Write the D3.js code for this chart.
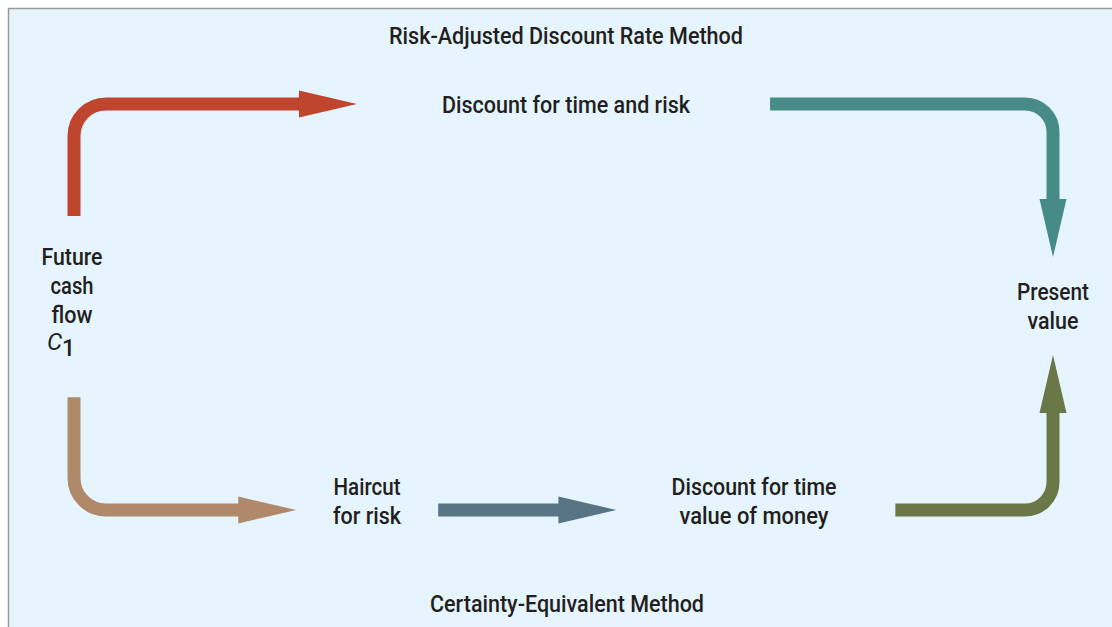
<!DOCTYPE html>
<html>
<head>
<meta charset="utf-8">
<script src="https://cdn.jsdelivr.net/npm/d3@7"></script>
<style>
  html, body { margin: 0; padding: 0; background: #ffffff; }
  svg { display: block; }
</style>
</head>
<body>
<svg id="chart" width="1112" height="627"></svg>
<script>
// Two ways of valuing a risky future cash flow C1
const methods = ["Risk-Adjusted Discount Rate Method", "Certainty-Equivalent Method"];
const stepTop = ["Discount for time and risk"];
const startLabel = ["Future", "cash", "flow"];
const endLabel = ["Present", "value"];
const stepHaircut = ["Haircut", "for risk"];
const stepDiscount = ["Discount for time", "value of money"];
const arrowNames = ["riskUp", "riskDown", "ceDown", "ceMiddle", "ceUp"];
const arrowColors = ["#bf452e", "#468b88", "#b0896b", "#597585", "#6a7848"];

// Layout grid: columns and rows of the flow, mapped to pixels through scales
const W = 1112, H = 627;
const svg = d3.select("#chart");
const x = d3.scaleLinear().domain([0, 100]).range([74, 1053]);
const y = d3.scaleLinear().domain([0, 100]).range([104, 510]);

const font = "Roboto, 'Liberation Sans Narrow', 'DejaVu Sans Condensed', sans-serif";
const ink = "#231f20";

// Panel
svg.append("rect").attr("x", 8).attr("y", 8).attr("width", W - 8).attr("height", H - 8)
  .attr("fill", "#e6f5fd");
svg.append("path").attr("d", `M8.5,${H}V8.5H${W}`).attr("fill", "none")
  .attr("stroke", "#9a9a9a").attr("stroke-width", 1.5);

// Arrow routes in grid units; last point is the arrow tip
const routes = {
  riskUp:   { pts: [[0, 27.6], [0, 0], [28.9, 0]], r: 32 },
  riskDown: { pts: [[71.1, 0], [100, 0], [100, 37.7]], r: 28 },
  ceDown:   { pts: [[0, 72.2], [0, 100], [22.7, 100]], r: 32 },
  ceMiddle: { pts: [[37.2, 100], [55.4, 100]], r: 0 },
  ceUp:     { pts: [[83.9, 100], [100, 100], [100, 61.8]], r: 28 }
};

const shaftW = 13, headLen = 58, headW = 27;

function drawArrow(name, color) {
  const rt = routes[name];
  const pts = rt.pts.map(p => [x(p[0]), y(p[1])]);
  const tip = pts[pts.length - 1];
  const prev = pts[pts.length - 2];
  const dx = tip[0] - prev[0], dy = tip[1] - prev[1];
  const len = Math.hypot(dx, dy);
  const ux = dx / len, uy = dy / len;
  const base = [tip[0] - ux * headLen, tip[1] - uy * headLen];

  const p = d3.path();
  p.moveTo(pts[0][0], pts[0][1]);
  for (let i = 1; i < pts.length - 1; i++) {
    p.arcTo(pts[i][0], pts[i][1], pts[i + 1][0], pts[i + 1][1], rt.r);
  }
  p.lineTo(base[0] + ux * 1, base[1] + uy * 1);

  svg.append("path").attr("d", p.toString()).attr("fill", "none")
    .attr("stroke", color).attr("stroke-width", shaftW).attr("stroke-linecap", "butt");

  const nx = -uy, ny = ux;
  const head = [
    [tip[0], tip[1]],
    [base[0] + nx * headW / 2, base[1] + ny * headW / 2],
    [base[0] - nx * headW / 2, base[1] - ny * headW / 2]
  ];
  svg.append("polygon").attr("points", head.map(d => d.join(",")).join(" "))
    .attr("fill", color);
}

arrowNames.forEach((n, i) => drawArrow(n, arrowColors[i]));

// Text
function label(lines, cx, baseline, widths, lineGap = 29) {
  lines.forEach((t, i) => {
    const el = svg.append("text")
      .attr("x", cx).attr("y", baseline + i * lineGap)
      .attr("text-anchor", "middle")
      .attr("font-family", font).attr("font-size", 24).attr("font-weight", 500)
      .attr("fill", ink).text(t);
    if (widths && widths[i]) {
      el.attr("textLength", widths[i]).attr("lengthAdjust", "spacingAndGlyphs");
    }
  });
}

label([methods[0]], 566, 44, [354]);
label(stepTop, 566, 113, [248]);
label(startLabel, 72, 265, [61, 43, 41]);
label(endLabel, 1053, 300, [72, 51]);
label(stepHaircut, 367, 495, [67, 68]);
label(stepDiscount, 754, 495, [165, 149]);
label([methods[1]], 567, 612, [274]);

// C with subscript 1
const c1 = svg.append("text")
  .attr("x", 61).attr("y", 350)
  .attr("text-anchor", "middle")
  .attr("font-family", font).attr("font-size", 24).attr("fill", ink);
c1.append("tspan").attr("font-style", "italic").text("C");
c1.append("tspan").attr("dy", 6).attr("font-size", 23).attr("font-weight", 500).text("1");
</script>
</body>
</html>
